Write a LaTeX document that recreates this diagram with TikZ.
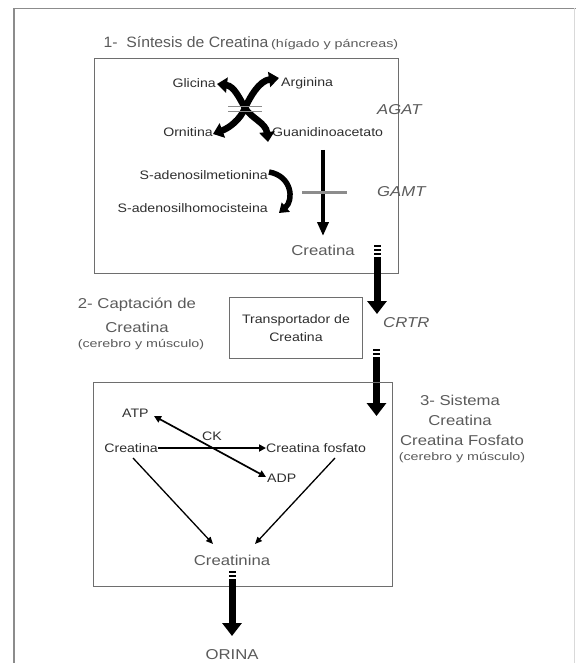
\documentclass[tikz,border=0pt]{standalone}
\usepackage{fontspec}
\setmainfont{Liberation Sans}
\usetikzlibrary{arrows.meta}
\newcommand\LblT[1]{\scalebox{1.15}[1]{\fontsize{12.3}{14}\selectfont #1}}
\newcommand\BigT[1]{\scalebox{1.17}[1]{\fontsize{14.3}{16}\selectfont #1}}
\newcommand\SmT[1]{\scalebox{1.3}[1]{\fontsize{11}{13}\selectfont #1}}
\newcommand\TitT[1]{\scalebox{1.05}[1]{\fontsize{15}{17}\selectfont #1}}
\definecolor{framec}{HTML}{8C8C8C}
\definecolor{boxc}{HTML}{6E6E6E}
\definecolor{txtc}{HTML}{2E2E2E}
\definecolor{txtg}{HTML}{5A5A5A}
\begin{document}
\begin{tikzpicture}[x=1pt,y=-1pt,
  lbl/.style={inner sep=0pt,text=txtc},
  big/.style={inner sep=0pt,text=txtg},
  panel/.style={draw=boxc,line width=0.9pt},
  thick arrow/.style={line width=7pt,-{Triangle[length=13pt,width=19pt]}},
  xarrow/.style={line width=6.5pt,{Triangle[length=10pt,width=15pt]}-{Triangle[length=10pt,width=15pt]}},
  thin arrow/.style={line width=1.3pt,-{Triangle[length=7pt,width=6pt]}},
  brkbar/.style={fill=black}]
\useasboundingbox (0,0) rectangle (576,663);
% outer frame
\draw[framec,line width=1.4pt] (14,663) -- (14,8.5) -- (576,8.5);
\draw[black!15,line width=0.8pt] (574.5,8.5) -- (574.5,663);

% ---------- panel 1 ----------
\node[big,text=txtg] (title) at (251,43) {\TitT{1-\ \ Síntesis de Creatina} \SmT{(hígado y páncreas)}};
\draw[panel] (94,58) rectangle (398,273);

\node[lbl,anchor=east] (gli) at (216,83) {\LblT{Glicina}};
\node[lbl,anchor=west] (arg) at (281,83) {\LblT{Arginina}};
\node[lbl,anchor=east] (orn) at (213,132) {\LblT{Ornitina}};
\node[lbl,anchor=west] (gua) at (272,132) {\LblT{Guanidinoacetato}};
\node[big,anchor=west] (agat) at (377,110) {\BigT{\itshape AGAT}};

\coordinate (xc) at (245,108);
\coordinate (xgl) at (217,84);
\coordinate (xar) at (279,78);
\coordinate (xor) at (213,134);
\coordinate (xgu) at (268,142);
\draw[xarrow] (xgl) .. controls (234,86) and (240,99) .. (xc) .. controls (251,118) and (266,123) .. (xgu);
\draw[xarrow] (xar) .. controls (259,81) and (250,97) .. (xc) .. controls (240,120) and (229,128) .. (xor);
\draw[black!45,line width=1.6pt] (228,106.5) -- (262,106.5);
\draw[black!45,line width=1.6pt] (228,111.5) -- (262,111.5);

\node[lbl,anchor=east] (sam) at (268,175) {\LblT{S-adenosilmetionina}};
\node[lbl,anchor=east] (sah) at (268,208) {\LblT{S-adenosilhomocisteina}};
\coordinate (cs) at (269,172);
\coordinate (ce) at (279,213);
\draw[line width=5.5pt,-{Triangle[length=9pt,width=12pt]}] (cs) .. controls (292,176) and (294,200) .. (ce);

\node[big] (cre1) at (323,250) {\BigT{Creatina}};
\coordinate (gtop) at (323,150);
\coordinate (gend) at (323,236);
\draw[line width=3.5pt,-{Triangle[length=14pt,width=11pt]}] (gtop) -- (gend);
\draw[black!45,line width=3pt] (302,192) -- (347,192);
\node[big,anchor=west] (gamt) at (377,192) {\BigT{\itshape GAMT}};

% break marks + big arrow 1
\fill[brkbar] (373.5,244.5) rectangle (380.5,246.5);
\fill[brkbar] (373.5,248.5) rectangle (380.5,250.5);
\fill[brkbar] (373.5,252.5) rectangle (380.5,254.5);
\coordinate (a1s) at (377,257);
\coordinate (a1e) at (377,314);
\draw[thick arrow] (a1s) -- (a1e);

% ---------- panel 2 ----------
\node[big] (cap1) at (137,305) {\BigT{2- Captación de}};
\node[big] (cap2) at (137,327) {\BigT{Creatina}};
\node[big] (cap3) at (141,345) {\SmT{(cerebro y músculo)}};
\draw[panel] (229,297) rectangle (362,358);
\node[lbl] (tr1) at (296,320) {\LblT{Transportador de}};
\node[lbl] (tr2) at (296,337) {\LblT{Creatina}};
\node[big,anchor=west] (crtr) at (383,323) {\BigT{\itshape CRTR}};

\fill[brkbar] (373,348.5) rectangle (380,350.5);
\fill[brkbar] (373,352.5) rectangle (380,354.5);
\coordinate (a2s) at (376.5,357);
\coordinate (a2e) at (376.5,416);
\draw[thick arrow] (a2s) -- (a2e);

% ---------- panel 3 ----------
\draw[panel] (93,382) rectangle (392,586);
\node[big] (sis1) at (460,400) {\BigT{3- Sistema}};
\node[big] (sis2) at (460,420) {\BigT{Creatina}};
\node[big] (sis3) at (462,440) {\BigT{Creatina Fosfato}};
\node[big] (sis4) at (462,458) {\SmT{(cerebro y músculo)}};

\node[lbl,anchor=west] (atp) at (122,413) {\LblT{ATP}};
\node[lbl] (ck) at (212,436) {\LblT{CK}};
\node[lbl,anchor=east] (cre3) at (158,448) {\LblT{Creatina}};
\node[lbl,anchor=west] (cfo) at (266,448) {\LblT{Creatina fosfato}};
\node[lbl,anchor=west] (adp) at (267,478) {\LblT{ADP}};
\node[big] (crn) at (232,560) {\BigT{Creatinina}};

\draw[line width=2.4pt,-{Triangle[length=7pt,width=7pt]}] (cre3.east) -- (cfo.west);
\coordinate (atpe) at (154,416);
\coordinate (adpw) at (266,477);
\draw[line width=1.7pt,{Triangle[length=7pt,width=7pt]}-{Triangle[length=7pt,width=7pt]}] (atpe) -- (adpw);
\coordinate (c3s) at (133,458);
\coordinate (crnl) at (213,544);
\coordinate (cfs) at (335,458);
\coordinate (crnr) at (255,544);
\draw[thin arrow] (c3s) -- (crnl);
\draw[thin arrow] (cfs) -- (crnr);

\fill[brkbar] (228.5,571) rectangle (235.5,573);
\fill[brkbar] (228.5,575) rectangle (235.5,577);
\coordinate (a3s) at (232,579);
\node[big] (ori) at (232,655) {\BigT{ORINA}};
\coordinate (a3e) at (232,636);
\draw[thick arrow] (a3s) -- (a3e);
\end{tikzpicture}
\end{document}
